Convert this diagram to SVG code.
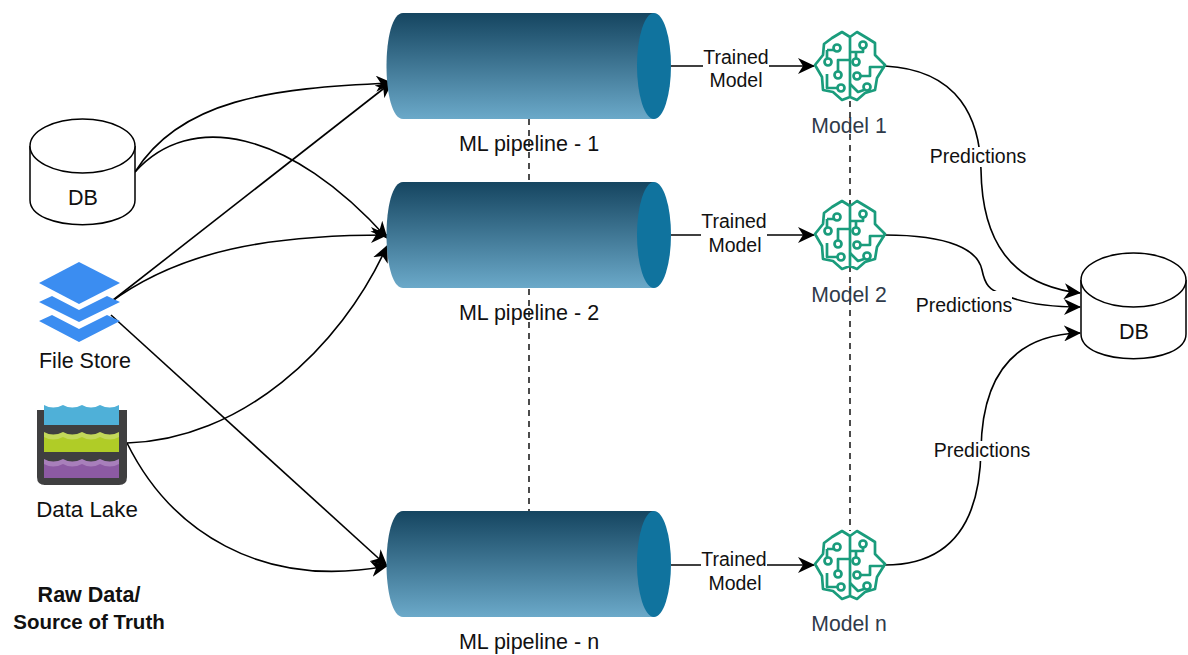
<svg xmlns="http://www.w3.org/2000/svg" width="1188" height="655" viewBox="0 0 1188 655">
<style>
text{font-family:"Liberation Sans",Arial,sans-serif;fill:#111;text-anchor:middle}
.t18{font-size:21.5px}.t16{font-size:19.500px}.bold{font-weight:bold}
.model{font-size:21.200px;fill:#2f3a4a}
.c{fill:none;stroke:#000;stroke-width:1.6}
.d{fill:none;stroke:#000;stroke-width:1.4;stroke-dasharray:6 5}
.db{fill:#fff;stroke:#000;stroke-width:1.5}
.lbl{fill:#fff;stroke:none}
.br{fill:none;stroke:#1a9c7c;stroke-width:2.7;stroke-linejoin:round}
</style>
<defs>
<linearGradient id="g" x1="0" y1="0" x2="0" y2="1"><stop offset="0" stop-color="#154560"/><stop offset="1" stop-color="#6ba9c9"/></linearGradient>
<marker id="a" viewBox="0 0 18 16" refX="16" refY="8" markerWidth="18" markerHeight="16" markerUnits="userSpaceOnUse" orient="auto"><path d="M0 0L17 8L0 16L5 8Z" fill="#000"/></marker>
<g id="cyl"><path d="M403 13H654V119H403C381 119 381 13 403 13Z" fill="url(#g)"/><ellipse cx="654" cy="66" rx="17" ry="53" fill="#10739e"/></g>
<g id="brain">
<path class="br" d="M850 37L842 32L832 38L824 44L823 55L815 65L822 77L823 90L833 92L842 100L850 97L857 100L865 93L875 90L877 78L885 65L875 55L875 43L867 38L857 32ZM850 37V97"/>
<path class="br" d="M827 50H834M827 50V58M850 60H838V72M827 74V88H837M850 52H863V49M856 52V58M861 76H870V67H885M850 84L858 92L864 90"/>
<circle class="br" cx="837" cy="48" r="3.500"/><circle class="br" cx="828" cy="62" r="3.500"/><circle class="br" cx="838" cy="75" r="3.500"/><circle class="br" cx="841" cy="88" r="3.500"/><circle class="br" cx="863" cy="45" r="3.500"/><circle class="br" cx="856" cy="62" r="3.500"/><circle class="br" cx="857" cy="76" r="3.500"/><circle class="br" cx="867" cy="87" r="3.500"/>
</g>
<g id="dbs"><path class="db" d="M30 146V200C30 233 135 233 135 200V146"/><ellipse class="db" cx="82.500" cy="146" rx="52.500" ry="27"/></g>
<path id="wave" d="M0 0Q9 5 19 0Q28 5 38 0Q47 5 56 0Q66 5 75 0V20H0Z"/>
</defs>
<g id="connectors">
<path class="d" d="M529 119V182M529 289V511M850 101V531"/>
<path class="c" marker-end="url(#a)" d="M135 172C180 100 270 88 392 83"/>
<path class="c" marker-end="url(#a)" d="M135 172C190 110 290 130 387 238"/>
<path class="c" marker-end="url(#a)" d="M108 304L392 82"/>
<path class="c" marker-end="url(#a)" d="M108 304C180 250 270 235 387 235"/>
<path class="c" marker-end="url(#a)" d="M111 315L387 566"/>
<path class="c" marker-end="url(#a)" d="M127 443C240 440 340 350 387 246"/>
<path class="c" marker-end="url(#a)" d="M127 443C170 530 260 590 387 566"/>
<path class="c" marker-end="url(#a)" d="M671 66H814"/>
<path class="c" marker-end="url(#a)" d="M671 235H814"/>
<path class="c" marker-end="url(#a)" d="M671 565H814"/>
<path class="c" marker-end="url(#a)" d="M885 66C960 70 980 120 981 170C982 240 1010 285 1080 293"/>
<path class="c" marker-end="url(#a)" d="M885 235C950 235 978 250 982 270C985 285 990 290 1000 293C1020 303 1050 307 1080 307"/>
<path class="c" marker-end="url(#a)" d="M885 565C960 565 980 510 981 450C982 380 1010 335 1080 333"/>
</g>
<g id="pipeline1"><use href="#cyl"/><text class="t18" x="529" y="151">ML pipeline - 1</text></g>
<g id="pipeline2"><use href="#cyl" y="169"/><text class="t18" x="529" y="320">ML pipeline - 2</text></g>
<g id="pipelinen"><use href="#cyl" y="498"/><text class="t18" x="529" y="649">ML pipeline - n</text></g>
<g id="model1"><use href="#brain"/><text class="model" x="849" y="133">Model 1</text></g>
<g id="model2"><use href="#brain" y="169"/><text class="model" x="849" y="302">Model 2</text></g>
<g id="modeln"><use href="#brain" y="499"/><text class="model" x="849" y="631">Model n</text></g>
<g id="labels">
<rect class="lbl" x="703" y="46" width="66" height="42"/><text class="t16" x="736" y="64">Trained</text><text class="t16" x="736" y="87">Model</text>
<rect class="lbl" x="701" y="210" width="66" height="48"/><text class="t16" x="734" y="228">Trained</text><text class="t16" x="735" y="252">Model</text>
<rect class="lbl" x="701" y="548" width="66" height="44"/><text class="t16" x="734" y="566">Trained</text><text class="t16" x="735" y="590">Model</text>
<rect class="lbl" x="931" y="147" width="95" height="20"/><text class="t16" x="978" y="163">Predictions</text>
<rect class="lbl" x="917" y="291" width="95" height="25"/><text class="t16" x="964" y="312">Predictions</text>
<rect class="lbl" x="935" y="441" width="95" height="20"/><text class="t16" x="982" y="457">Predictions</text>
</g>
<g id="db1"><use href="#dbs"/><text class="t18" x="83" y="205">DB</text></g>
<g id="db2"><use href="#dbs" x="1051" y="134"/><text class="t18" x="1134" y="339">DB</text></g>
<g id="filestore">
<path d="M79 262L120 283L79 304L39 283Z" fill="#3b8df1"/>
<path d="M52 296L79 310L107 296L120 302L79 322L39 302Z" fill="#3b8df1"/>
<path d="M52 315L79 329L107 315L120 321L79 342L39 321Z" fill="#3b8df1"/>
<text class="t18" x="85" y="368">File Store</text>
</g>
<g id="datalake">
<path d="M37 410H127V477Q127 485 119 485H45Q37 485 37 477Z" fill="#3f3f40"/>
<rect x="44" y="410" width="75" height="15" fill="#4fb0d8"/>
<use href="#wave" x="44" y="405" fill="#4fb0d8"/>
<rect x="44" y="436" width="75" height="16" fill="#b0cc27"/>
<use href="#wave" x="44" y="432" fill="#c3d85a"/>
<use href="#wave" x="44" y="437" fill="#b0cc27" transform="translate(0 0)"/>
<rect x="44" y="452" width="75" height="6" fill="#3f3f40"/>
<use href="#wave" x="44" y="459" fill="#a87fbb"/>
<use href="#wave" x="44" y="464" fill="#8c5aa3"/>
<rect x="44" y="478" width="75" height="7" fill="#3f3f40"/>
<path d="M44 425H119V432H44Z" fill="#3f3f40"/>
<text class="t18" x="87" y="517" style="font-size:22.300px">Data Lake</text>
</g>
<g id="rawdata"><text class="t18 bold" x="89" y="602">Raw Data/</text><text class="t18 bold" x="89" y="629" style="font-size:20.500px">Source of Truth</text></g>
</svg>
